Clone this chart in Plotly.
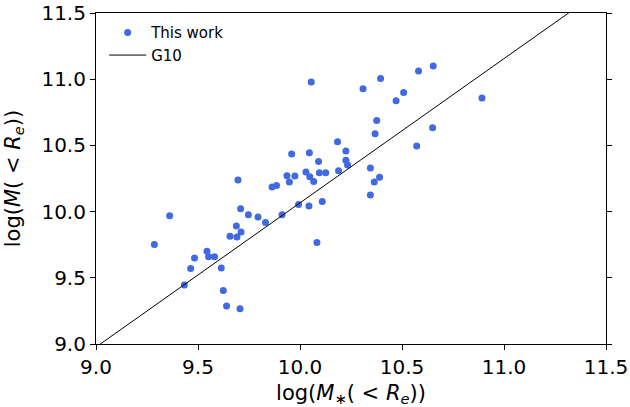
import plotly.graph_objects as go

# Data
log_mstar = [9.286, 9.361, 9.433, 9.464, 9.483, 9.544, 9.552, 9.581, 9.614, 9.624,
             9.640, 9.706, 9.657, 9.688, 9.691, 9.711, 9.709, 9.747, 9.794, 9.831,
             9.912, 9.993, 10.044, 10.083, 10.109, 9.696, 9.863, 9.885, 9.936, 9.948,
             9.959, 9.975, 10.046, 10.091, 10.029, 10.048, 10.067, 10.095, 10.126, 10.189,
             10.225, 10.225, 10.233, 10.345, 10.364, 10.390, 10.345, 10.055, 10.309, 10.395,
             10.376, 10.368, 10.184, 10.581, 10.653, 10.471, 10.508, 10.892, 10.650, 10.572]
log_mdyn = [9.752, 9.969, 9.446, 9.571, 9.650, 9.700, 9.659, 9.659, 9.574, 9.405,
            9.287, 9.267, 9.813, 9.891, 9.808, 9.846, 10.022, 9.977, 9.959, 9.918,
            9.977, 10.054, 10.042, 9.767, 10.077, 10.239, 10.186, 10.198, 10.271, 10.224,
            10.435, 10.269, 10.445, 10.379, 10.299, 10.264, 10.228, 10.294, 10.294, 10.309,
            10.458, 10.387, 10.352, 10.329, 10.224, 10.259, 10.125, 10.979, 10.928, 11.006,
            10.689, 10.588, 10.528, 11.062, 11.100, 10.838, 10.900, 10.858, 10.634, 10.495]

g10_x = [9.0, 11.5]
g10_y = [8.977, 11.700]

tick_vals = [9.0, 9.5, 10.0, 10.5, 11.0, 11.5]
tick_text = ["9.0", "9.5", "10.0", "10.5", "11.0", "11.5"]

FONT = "DejaVu Sans"

fig = go.Figure()
fig.add_trace(go.Scatter(
    x=log_mstar, y=log_mdyn, mode="markers", name="This work",
    marker=dict(color="#4169E1", size=7, line=dict(width=0)),
))
fig.add_trace(go.Scatter(
    x=g10_x, y=g10_y, mode="lines", name="G10",
    line=dict(color="black", width=1),
))

axis_common = dict(
    showgrid=False, zeroline=False, showline=True, linecolor="black", linewidth=1.1,
    ticks="outside", ticklen=5, tickwidth=1.1, tickcolor="black",
    tickvals=tick_vals, ticktext=tick_text, automargin=False,
    tickfont=dict(family=FONT, size=20, color="black"),
)

fig.update_layout(
    width=630, height=407,
    margin=dict(l=96, r=24, t=13, b=63),
    paper_bgcolor="white", plot_bgcolor="white",
    font=dict(family=FONT, color="black"),
    showlegend=True,
    legend=dict(
        x=0.016, y=0.99, xanchor="left", yanchor="top",
        bgcolor="rgba(0,0,0,0)", borderwidth=0, itemwidth=37,
        font=dict(family=FONT, size=15, color="black"),
        tracegroupgap=0,
    ),
    xaxis=dict(
        range=[9.0, 11.5], mirror=True,
        title=dict(text="log(<i>M</i><sub>∗</sub>( &lt; <i>R</i><sub><i>e</i></sub>))",
                   font=dict(family=FONT, size=21, color="black")),
        **axis_common,
    ),
    yaxis=dict(
        range=[9.0, 11.5], mirror="ticks",
        title=dict(text="log(<i>M</i>( &lt; <i>R</i><sub><i>e</i></sub>))",
                   font=dict(family=FONT, size=21, color="black")),
        **axis_common,
    ),
)

fig.write_html("out.html", config={"displayModeBar": False},
               post_script="document.body.style.margin='0';")
